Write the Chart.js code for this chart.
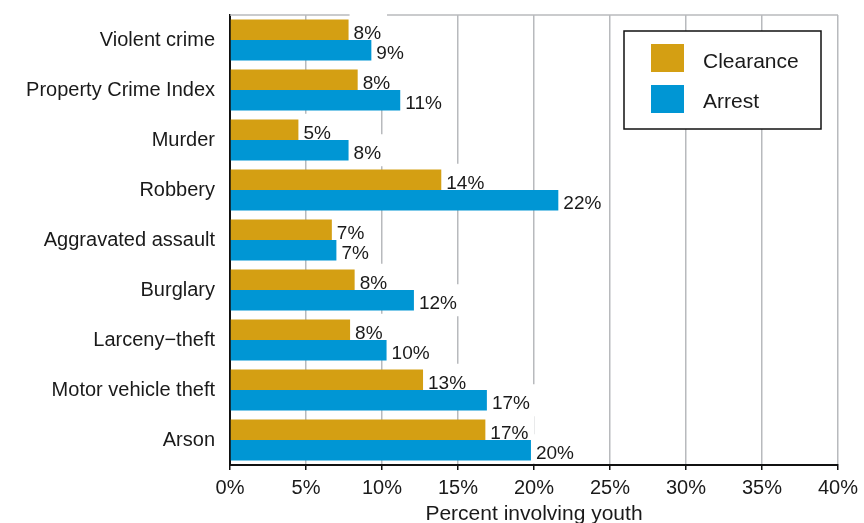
<!DOCTYPE html>
<html>
<head>
<meta charset="utf-8">
<script src="https://cdn.jsdelivr.net/npm/chart.js@4.4.1/dist/chart.umd.min.js"></script>
<style>
  html, body { margin: 0; padding: 0; background: #fff; }
  #wrap { position: relative; width: 864px; height: 523px; }
</style>
</head>
<body>
<div id="wrap"><canvas id="youth-chart"></canvas></div>
<script>
// offense categories, top to bottom
const categories = [
  "Violent crime",
  "Property Crime Index",
  "Murder",
  "Robbery",
  "Aggravated assault",
  "Burglary",
  "Larceny\u2212theft",
  "Motor vehicle theft",
  "Arson"
];
// percent involving youth
const clearance = [7.8, 8.4, 4.5, 13.9, 6.7, 8.2, 7.9, 12.7, 16.8];
const arrest = [9.3, 11.2, 7.8, 21.6, 7.0, 12.1, 10.3, 16.9, 19.8];
const seriesNames = ["Clearance", "Arrest"];
const xTicks = [0, 5, 10, 15, 20, 25, 30, 35, 40];

const FONT = "'Liberation Sans', Arial, Helvetica, sans-serif";
const GOLD = "#d49f13";
const BLUE = "#0096d4";
const GRID = "#b8babd";

// value labels next to bar ends, with a white backing box
const valueLabels = {
  id: "valueLabels",
  beforeDatasetsDraw(chart) {
    const { ctx, chartArea } = chart;
    ctx.save();
    // top frame line
    ctx.strokeStyle = GRID;
    ctx.lineWidth = 1.5;
    ctx.beginPath();
    ctx.moveTo(chartArea.left, chartArea.top);
    ctx.lineTo(chartArea.right, chartArea.top);
    ctx.stroke();
    // keep boxes off the x axis line
    ctx.beginPath();
    ctx.rect(chartArea.left, 0, chartArea.right - chartArea.left, chartArea.bottom - 1.5);
    ctx.clip();
    ctx.font = "19px " + FONT;
    ctx.fillStyle = "#fff";
    chart.data.datasets.forEach((ds, di) => {
      chart.getDatasetMeta(di).data.forEach((bar, i) => {
        const txt = Math.round(ds.data[i]) + "%";
        const w = ctx.measureText(txt).width;
        ctx.fillRect(bar.x + 1, bar.y - 16, w + 10, 32);
      });
    });
    ctx.restore();
  },
  afterDatasetsDraw(chart) {
    const { ctx } = chart;
    ctx.save();
    ctx.font = "19px " + FONT;
    ctx.fillStyle = "#1a1a1a";
    ctx.textAlign = "left";
    ctx.textBaseline = "alphabetic";
    chart.data.datasets.forEach((ds, di) => {
      chart.getDatasetMeta(di).data.forEach((bar, i) => {
        ctx.fillText(Math.round(ds.data[i]) + "%", bar.x + 5, bar.y + 9);
      });
    });
    ctx.restore();
  }
};

// boxed legend in the upper right of the plot
const boxLegend = {
  id: "boxLegend",
  afterDraw(chart) {
    const { ctx, chartArea } = chart;
    const bx = chartArea.right - 214;
    const by = chartArea.top + 16;
    ctx.save();
    ctx.fillStyle = "#fff";
    ctx.fillRect(bx, by, 197, 98);
    ctx.strokeStyle = "#111";
    ctx.lineWidth = 1.5;
    ctx.strokeRect(bx, by, 197, 98);
    ctx.font = "21px " + FONT;
    ctx.textBaseline = "alphabetic";
    chart.data.datasets.forEach((ds, i) => {
      ctx.fillStyle = ds.backgroundColor;
      ctx.fillRect(bx + 27, by + 13 + i * 41, 33, 28);
      ctx.fillStyle = "#1a1a1a";
      ctx.fillText(ds.label, bx + 79, by + 37 + i * 40);
    });
    ctx.restore();
  }
};

new Chart(document.getElementById("youth-chart").getContext("2d"), {
  type: "bar",
  data: {
    labels: categories,
    datasets: [
      { label: seriesNames[0], data: clearance, backgroundColor: GOLD },
      { label: seriesNames[1], data: arrest, backgroundColor: BLUE }
    ]
  },
  options: {
    indexAxis: "y",
    responsive: true,
    maintainAspectRatio: false,
    animation: false,
    categoryPercentage: 0.82,
    barPercentage: 1.0,
    layout: { padding: { top: 15, right: 26, bottom: 0, left: 0 } },
    plugins: {
      legend: { display: false },
      tooltip: { enabled: false }
    },
    scales: {
      x: {
        min: 0,
        max: 40,
        afterBuildTicks: (scale) => {
          scale.ticks = xTicks.map((v) => ({ value: v }));
        },
        afterFit: (scale) => {
          scale.height = 58;
          scale.paddingLeft = 0;
          scale.paddingRight = 0;
        },
        grid: {
          color: GRID,
          lineWidth: 1.5,
          tickColor: "#111",
          tickLength: 5,
          tickWidth: 1.5
        },
        border: { display: true, color: "#111", width: 2 },
        ticks: {
          padding: 6,
          color: "#1a1a1a",
          font: { family: FONT, size: 20 },
          callback: (v) => v + "%"
        },
        title: {
          display: true,
          text: "Percent involving youth",
          color: "#1a1a1a",
          font: { family: FONT, size: 21 },
          padding: { top: 0, bottom: -4 }
        }
      },
      y: {
        afterFit: (scale) => {
          scale.width = 230;
          scale.paddingTop = 0;
          scale.paddingBottom = 0;
        },
        grid: { display: false, drawTicks: false },
        border: { display: true, color: "#111", width: 2 },
        ticks: {
          padding: 15,
          color: "#1a1a1a",
          font: { family: FONT, size: 20 }
        }
      }
    }
  },
  plugins: [valueLabels, boxLegend]
});
</script>
</body>
</html>
